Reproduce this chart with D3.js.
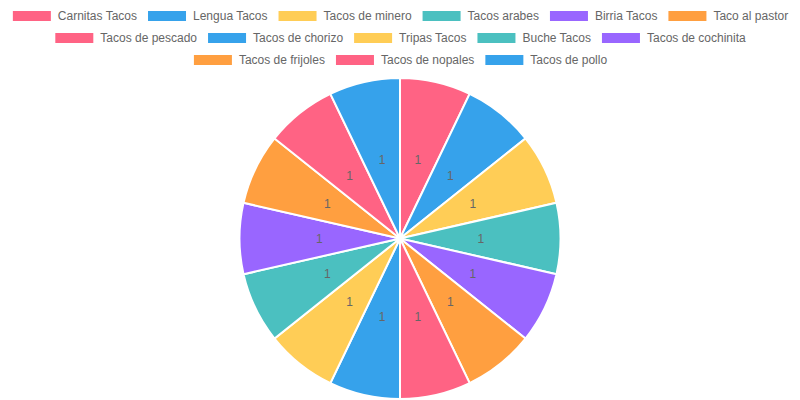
<!DOCTYPE html>
<html>
<head>
<meta charset="utf-8">
<script src="https://cdn.jsdelivr.net/npm/d3@7"></script>
<style>
  html, body { margin: 0; padding: 0; background: #fff; }
  svg { display: block; }
</style>
</head>
<body>
<svg id="chart" width="800" height="400"></svg>
<script>
var categories = ['Carnitas Tacos', 'Lengua Tacos', 'Tacos de minero', 'Tacos arabes', 'Birria Tacos',
  'Taco al pastor', 'Tacos de pescado', 'Tacos de chorizo', 'Tripas Tacos', 'Buche Tacos',
  'Tacos de cochinita', 'Tacos de frijoles', 'Tacos de nopales', 'Tacos de pollo'];
var values = [1, 1, 1, 1, 1, 1, 1, 1, 1, 1, 1, 1, 1, 1];
var palette = ['#ff6384', '#36a2eb', '#ffcd56', '#4bc0c0', '#9966ff', '#ff9f40'];

var W = 800, H = 400;
var font = "'Helvetica Neue', Helvetica, Arial, 'Liberation Sans', sans-serif";
var svg = d3.select('#chart');

var color = d3.scaleOrdinal().domain(categories).range(palette);

// legend: measure, wrap into rows, center each row
var boxW = 40, boxH = 12, fontSize = 12, pad = 10, lineH = fontSize + pad;
var measure = svg.append('text').style('font-family', font).style('font-size', fontSize + 'px');
var items = categories.map(function(c){
  measure.text(c);
  return { name: c, w: boxW + fontSize / 2 + measure.node().getComputedTextLength() };
});
measure.remove();

var rows = [[]], rowW = [0];
items.forEach(function(it){
  var r = rows.length - 1;
  if (rows[r].length && rowW[r] + it.w + pad > W) {
    rows.push([]); rowW.push(0); r++;
  }
  rows[r].push(it);
  rowW[r] += it.w + pad;
});

var legend = svg.append('g');
rows.forEach(function(row, ri){
  var x = (W - (rowW[ri] - pad)) / 2;
  var cy = pad + ri * lineH + fontSize / 2;
  row.forEach(function(it){
    legend.append('rect')
      .attr('x', x + 1).attr('y', cy - boxH / 2 + 1)
      .attr('width', boxW - 2).attr('height', boxH - 2)
      .style('fill', color(it.name));
    legend.append('text')
      .text(it.name)
      .attr('x', x + boxW + fontSize / 2)
      .attr('y', cy)
      .attr('dy', '0.35em')
      .style('font-family', font)
      .style('font-size', fontSize + 'px')
      .style('fill', '#666');
    x += it.w + pad;
  });
});

// pie
var pieTop = pad + rows.length * lineH + 1;
var radius = (H - pieTop) / 2;
var pcx = W / 2, pcy = pieTop + radius;

var pie = d3.pie().sort(null).value(function(d){ return d; });
var arcs = pie(values);
var arc = d3.arc().innerRadius(0).outerRadius(radius - 1);
var labelArc = d3.arc().innerRadius(radius / 2).outerRadius(radius / 2);

var g = svg.append('g').attr('transform', 'translate(' + pcx + ',' + pcy + ')');
g.selectAll('path')
  .data(arcs)
  .enter().append('path')
  .attr('d', arc)
  .style('fill', function(d, i){ return color(categories[i]); })
  .style('stroke', '#fff')
  .style('stroke-width', 2);

g.selectAll('text.lbl')
  .data(arcs)
  .enter().append('text')
  .attr('class', 'lbl')
  .text(function(d){ return d.data; })
  .attr('transform', function(d){ return 'translate(' + labelArc.centroid(d) + ')'; })
  .attr('text-anchor', 'middle')
  .attr('dy', '0.35em')
  .style('font-family', font)
  .style('font-size', '12px')
  .style('fill', '#666');
</script>
</body>
</html>
